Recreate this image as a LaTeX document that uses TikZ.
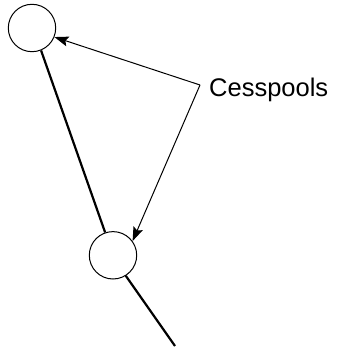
\documentclass[tikz,border=0pt]{standalone}
\usepackage{fontspec}
\setmainfont{Liberation Sans}
\usetikzlibrary{arrows.meta}
\begin{document}
\begin{tikzpicture}[x=1pt,y=-1pt,
  pool/.style={circle,draw,line width=1pt,minimum size=47.4pt,inner sep=0pt},
  pipe/.style={line width=2.2pt},
  pointer/.style={line width=1pt,-{Stealth[length=14pt,width=10pt,inset=2.5pt]}}]
\useasboundingbox (0,0) rectangle (340,350);
\node[pool] (c1) at (32,28) {};
\node[pool] (c2) at (113,255.3) {};
\coordinate (e) at (175,346);
\coordinate (v) at (200,85);
\node[anchor=base west,inner sep=0pt,font=\fontsize{25.5}{30}\selectfont] (lbl) at (209,96.7) {Cesspools};
\draw[pipe] (c1.-68) -- (c2.109);
\draw[pipe] (c2.-58) -- (e);
\draw[pointer] (v) -- (c1.-22);
\draw[pointer] (v) -- (c2.36);
\end{tikzpicture}
\end{document}
